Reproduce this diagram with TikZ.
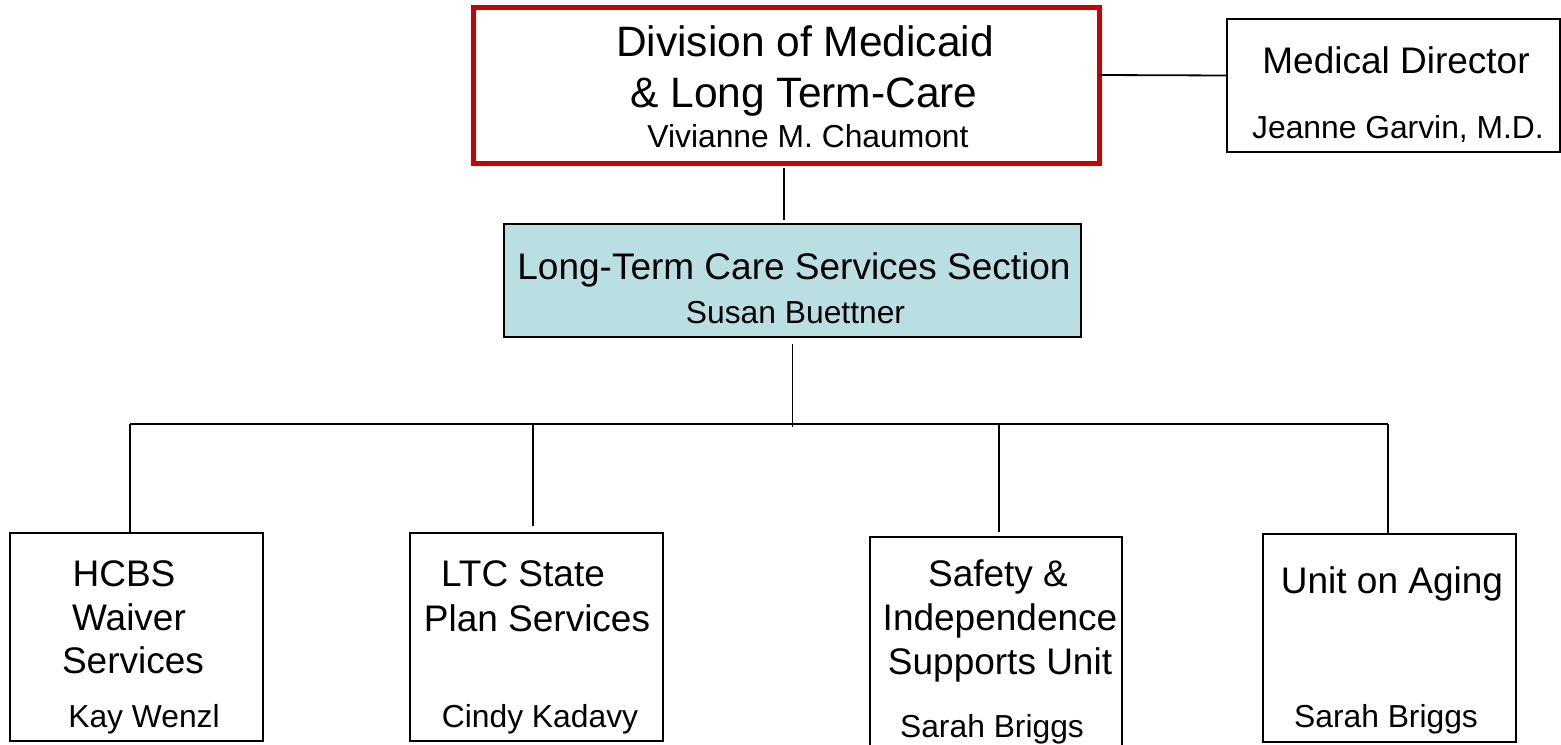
\documentclass[tikz,border=0pt]{standalone}
\usepackage{fontspec}
\setmainfont{Liberation Sans}
\definecolor{divred}{HTML}{CC0000}
\definecolor{secblue}{HTML}{BADFE3}
\tikzset{
  unitbox/.style={draw=black, line width=1pt, inner sep=0pt, outer sep=0pt},
  wire/.style={draw=black, line width=0.9pt},
  headtext/.style={anchor=base, inner sep=0pt, font=\fontsize{21.25}{25}\selectfont},
  titletext/.style={anchor=base, inner sep=0pt, font=\fontsize{18.5}{22}\selectfont},
  nametext/.style={anchor=base, inner sep=0pt, font=\fontsize{15.9}{19}\selectfont},
}

\begin{document}
\begin{tikzpicture}[x=0.5pt, y=-0.5pt]
    \useasboundingbox (0,0) rectangle (1561,744);
%
    % top level
    \node[unitbox, draw=divred, line width=2.5pt, minimum width=313pt, minimum height=78pt] (div) at (786,85) {};
    \node[unitbox, minimum width=166.5pt, minimum height=66.5pt] (med) at (1393.5,85.5) {};
    \node[unitbox, fill=secblue, minimum width=288.5pt, minimum height=56.5pt] (sec) at (792.5,280.5) {};
%
    % units
    \node[unitbox, minimum width=126.5pt, minimum height=104pt] (hcbs) at (136.5,637) {};
    \node[unitbox, minimum width=126.5pt, minimum height=104pt] (ltcsp) at (536.5,637) {};
    \node[unitbox, minimum width=126pt, minimum height=106.5pt] (sisu) at (996,643.5) {};
    \node[unitbox, minimum width=126.5pt, minimum height=104pt] (aging) at (1389.5,638) {};
%
    % texts
    \node[headtext] (divA) at (805,56) {Division of Medicaid};
    \node[headtext] (divB) at (804,107) {\& Long Term-Care};
    \node[nametext] (divC) at (808,147) {Vivianne M. Chaumont};
    \node[titletext] (medA) at (1396,73) {Medical Director};
    \node[nametext] (medB) at (1398,138) {Jeanne Garvin, M.D.};
    \node[titletext] (secA) at (794,279) {Long-Term Care Services Section};
    \node[nametext] (secB) at (795.5,323) {Susan Buettner};
    \node[titletext] (hcbsA) at (124,586) {HCBS};
    \node[titletext] (hcbsB) at (129,630) {Waiver};
    \node[titletext] (hcbsC) at (133,673) {Services};
    \node[nametext] (hcbsD) at (144,727) {Kay Wenzl};
    \node[titletext] (ltcspA) at (523,586) {LTC State};
    \node[titletext] (ltcspB) at (537,631) {Plan Services};
    \node[nametext] (ltcspC) at (540,727) {Cindy Kadavy};
    \node[titletext] (sisuA) at (998,586) {Safety \&};
    \node[titletext] (sisuB) at (1000,630) {Independence};
    \node[titletext] (sisuC) at (1000,674) {Supports Unit};
    \node[nametext] (sisuD) at (992,737) {Sarah Briggs};
    \node[titletext] (agingA) at (1392,593) {Unit on Aging};
    \node[nametext] (agingB) at (1386,727) {Sarah Briggs};
%
    % connectors
    \coordinate (bus) at (793,424);
    \draw[wire] ([yshift=5pt]div.east) -- ([yshift=5pt]med.west);
    \draw[wire] ([xshift=-1pt,yshift=-2.5pt]div.south) -- ([xshift=-1pt,yshift=2pt]div.south |- sec.north);
    \draw[wire] ([yshift=-3.5pt]sec.south) -- ([yshift=-1.5pt]sec.south |- bus);
    \draw[wire] ([xshift=-3.25pt]hcbs.north |- bus) -- ([xshift=-0.75pt]aging.north |- bus);
    \draw[wire] ([xshift=-3.25pt]hcbs.north |- bus) -- ([xshift=-3.25pt]hcbs.north);
    \draw[wire] ([xshift=-1.75pt]ltcsp.north |- bus) -- ([xshift=-1.75pt,yshift=3.5pt]ltcsp.north);
    \draw[wire] ([xshift=1.5pt]sisu.north |- bus) -- ([xshift=1.5pt,yshift=2.5pt]sisu.north);
    \draw[wire] ([xshift=-0.75pt]aging.north |- bus) -- ([xshift=-0.75pt]aging.north);
\end{tikzpicture}
\end{document}
